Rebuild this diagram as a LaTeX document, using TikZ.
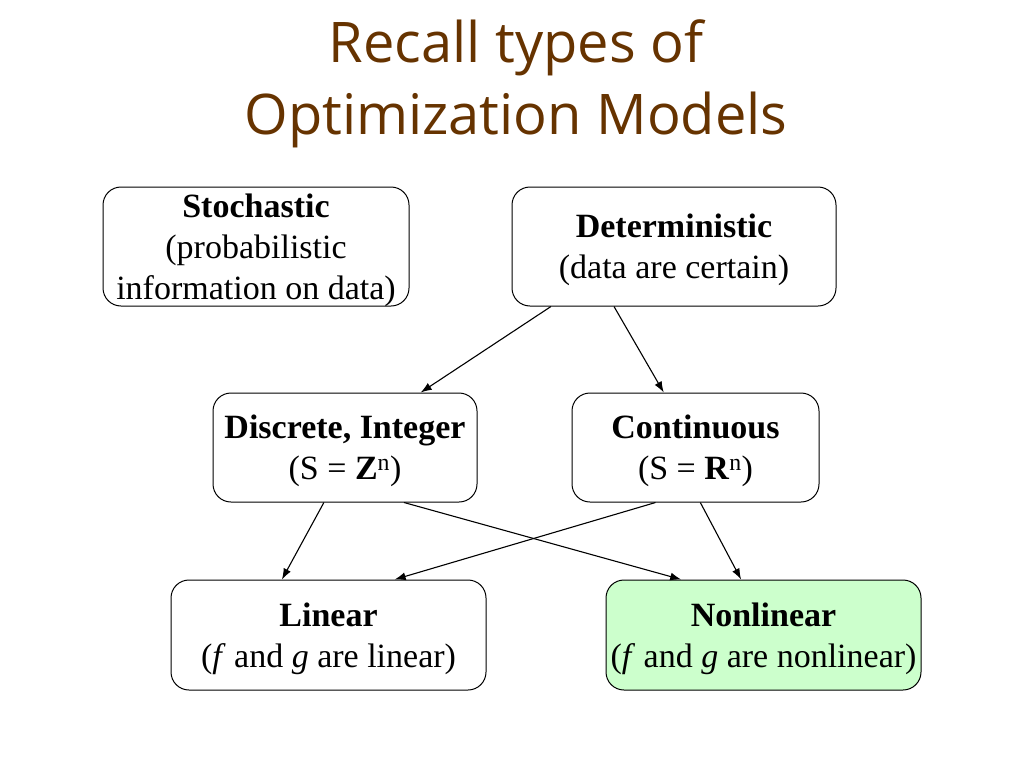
\documentclass[tikz,border=0pt]{standalone}
\usepackage{fontspec}
\setmainfont{Liberation Serif}
\newfontfamily\titlefont{Open Sans}
\usepackage{xcolor}
\usepackage{tikz}
\usetikzlibrary{arrows.meta}
\definecolor{titlebrown}{HTML}{663300}
\definecolor{nonlingreen}{HTML}{CCFFCC}

\begin{document}
\begin{tikzpicture}[x=1pt, y=-1pt,
		box/.style={draw=black, line width=1pt, rounded corners=18pt, align=center, inner sep=0pt, text depth=0pt, fill=white, font=\fontsize{34}{41}\selectfont},
		arr/.style={line width=1.1pt, -{Latex[length=11pt, width=8pt]}}]
	\useasboundingbox[fill=white] (0,0) rectangle (1024,768);
	\node[text=titlebrown, align=center, font=\titlefont\fontsize{56}{72}\selectfont] (title) at (516,84) {Recall types of\\Optimization Models};
	\node[box, minimum width=306pt, minimum height=119pt] (stoch) at (256,246.5) {\textbf{Stochastic}\\(probabilistic\\information on data)};
	\node[box, minimum width=324pt, minimum height=119pt] (det) at (674,246.5) {\textbf{Deterministic}\\(data are certain)};
	\node[box, minimum width=264pt, minimum height=109pt] (disc) at (345,447.5) {\textbf{Discrete, Integer}\\(S = \textbf{Z}\textsuperscript{n})};
	\node[box, minimum width=247pt, minimum height=109pt] (cont) at (695.5,447.5) {\textbf{Continuous}\\(S = \textbf{R}\textsuperscript{n})};
	\node[box, minimum width=315pt, minimum height=110pt] (lin) at (328.5,635) {\textbf{Linear}\\(\textit{f} and \textit{g} are linear)};
	\node[box, fill=nonlingreen, minimum width=315pt, minimum height=110pt] (nonlin) at (763.5,635) {\textbf{Nonlinear}\\(\textit{f} and \textit{g} are nonlinear)};
	\draw[arr] (det.206) -- (disc.36);
	\draw[arr] (det.225) -- (cont.120);
	\draw[arr] (disc.249) -- (lin.130);
	\draw[arr] (disc.317) -- (nonlin.146);
	\draw[arr] (cont.234) -- (lin.40);
	\draw[arr] (cont.275) -- (nonlin.112);
\end{tikzpicture}
\end{document}
